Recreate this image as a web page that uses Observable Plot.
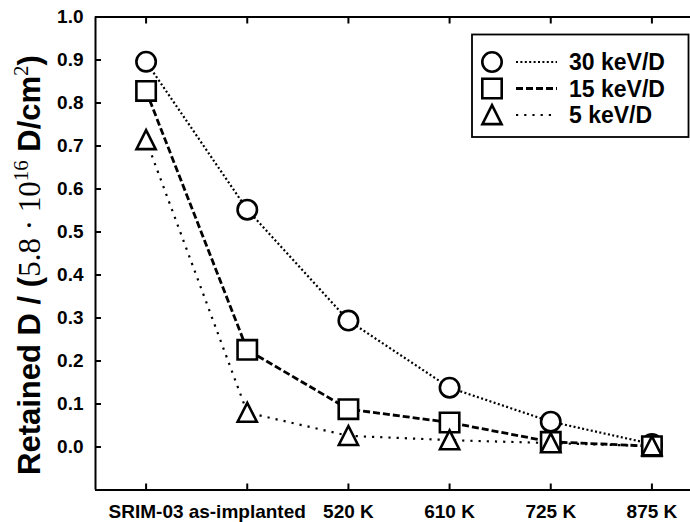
<!DOCTYPE html>
<html><head><meta charset="utf-8">
<script src="https://cdn.jsdelivr.net/npm/d3@7"></script>
<script src="https://cdn.jsdelivr.net/npm/@observablehq/plot@0.6"></script>
<style>
body{margin:0;background:#fff;overflow:hidden}
#chart svg{display:block}
</style>
</head><body><div id="chart"></div>
<script>
// ---- data ----
const categories = ["SRIM-03", "as-implanted", "520 K", "610 K", "725 K", "875 K"];
const seriesNames = ["30 keV/D", "15 keV/D", "5 keV/D"];
const values30 = [0.896, 0.552, 0.294, 0.138, 0.059, 0.007];
const values15 = [0.828, 0.226, 0.088, 0.057, 0.012, 0.002];
const values5  = [0.714, 0.080, 0.026, 0.016, 0.009, 0.002];
const yTicks = [0, 0.1, 0.2, 0.3, 0.4, 0.5, 0.6, 0.7, 0.8, 0.9, 1.0];

// ---- styles ----
const symCircle = {draw(ctx, size){const r = Math.sqrt(size/Math.PI); ctx.moveTo(r, 0); ctx.arc(0, 0, r, 0, 2*Math.PI);}};
const symSquare = {draw(ctx, size){const r = Math.sqrt(size/Math.PI); ctx.rect(-r, -r, 2*r, 2*r);}};
const symTriangle = {draw(ctx, size){const r = Math.sqrt(size/Math.PI); ctx.moveTo(0, -r*1.02); ctx.lineTo(r, r*0.95); ctx.lineTo(-r, r*0.95); ctx.closePath();}};
const symbols = [symCircle, symSquare, symTriangle];
const dashes = ["2,2.4", "7,3", "2.2,6"];
const lineWidths = [2.2, 2.8, 2.2];
const markerR = [9.7, 9.7, 9.6];
const sans = "'Liberation Sans', Arial, sans-serif";
const serif = "'Liberation Serif', serif";

const allValues = [values30, values15, values5];
const rows = seriesNames.map((s, k) => allValues[k].map((v, i) => ({s, i, v})));
const idx = categories.map((c, i) => i);

const marks = [];
rows.forEach((data, k) => {
  marks.push(Plot.line(data, {x: "i", y: "v", stroke: "black", strokeWidth: lineWidths[k], strokeDasharray: dashes[k], strokeLinecap: "butt"}));
});
rows.forEach((data, k) => {
  marks.push(Plot.dot(data, {x: "i", y: "v", symbol: () => symbols[k], r: markerR[k], fill: "white", stroke: "black", strokeWidth: 2.6, strokeLinejoin: "miter"}));
});

const chart = Plot.plot({
  width: 690, height: 522,
  marginLeft: 95, marginRight: 0, marginTop: 16.5, marginBottom: 32.5,
  x: {type: "linear", domain: [-0.5, 5.5], range: [95, 702]},
  y: {domain: [-0.1, 1.0]},
  symbol: {type: "identity"},
  style: {fontFamily: sans, fontWeight: "bold", color: "black", background: "white"},
  marks: [
    ...marks,
    Plot.ruleX([-0.5], {strokeWidth: 2}),
    Plot.ruleY([-0.1, 1.0], {strokeWidth: 2}),
    Plot.axisY(yTicks, {anchor: "left", tickSize: -6, tickPadding: 18, tickFormat: d => d.toFixed(1), fontSize: 19, fontWeight: "bold", strokeWidth: 2, label: null}),
    Plot.axisX(idx, {anchor: "bottom", tickSize: -6, tickPadding: 20, tickFormat: i => categories[i], fontSize: 19, fontWeight: "bold", strokeWidth: 2, label: null}),
    Plot.axisX(idx, {anchor: "top", tickSize: -6, tickFormat: () => "", strokeWidth: 2, label: null})
  ]
});
document.getElementById("chart").appendChild(chart);

// ---- legend ----
const svg = d3.select(chart);
const lg = svg.append("g");
lg.append("rect").attr("x", 472).attr("y", 34.5).attr("width", 216.5).attr("height", 102.5)
  .attr("fill", "white").attr("stroke", "black").attr("stroke-width", 1.8);
seriesNames.forEach((name, k) => {
  const cy = 62 + k * 26.5;
  lg.append("line").attr("x1", 516).attr("x2", 557).attr("y1", cy).attr("y2", cy)
    .attr("stroke", "black").attr("stroke-width", lineWidths[k]).attr("stroke-dasharray", dashes[k]);
  lg.append("path").attr("transform", `translate(492,${cy})`)
    .attr("d", d3.symbol(symbols[k], Math.PI * markerR[k] * markerR[k])())
    .attr("fill", "white").attr("stroke", "black").attr("stroke-width", 2.6);
  lg.append("text").attr("x", 569).attr("y", cy).attr("dy", "0.36em")
    .attr("text-anchor", "start")
    .attr("font-family", sans).attr("font-weight", "bold")
    .attr("font-size", 23).attr("fill", "black").text(name);
});

// ---- y title ----
const t = svg.append("text")
  .attr("transform", "translate(39.5,265) rotate(-90)")
  .attr("text-anchor", "middle")
  .attr("font-family", sans)
  .attr("font-weight", "bold").attr("font-size", 31).attr("fill", "black");
t.append("tspan").text("Retained D / (");
t.append("tspan").attr("font-family", serif).attr("font-weight", "normal").text("5.8 · 10");
t.append("tspan").attr("font-family", serif).attr("font-weight", "normal").attr("font-size", 21).attr("dy", -12).text("16");
t.append("tspan").attr("dy", 12).text(" D/cm");
t.append("tspan").attr("font-family", serif).attr("font-weight", "normal").attr("font-size", 21).attr("dy", -12).text("2");
t.append("tspan").attr("dy", 12).text(")");
</script>
</body></html>
